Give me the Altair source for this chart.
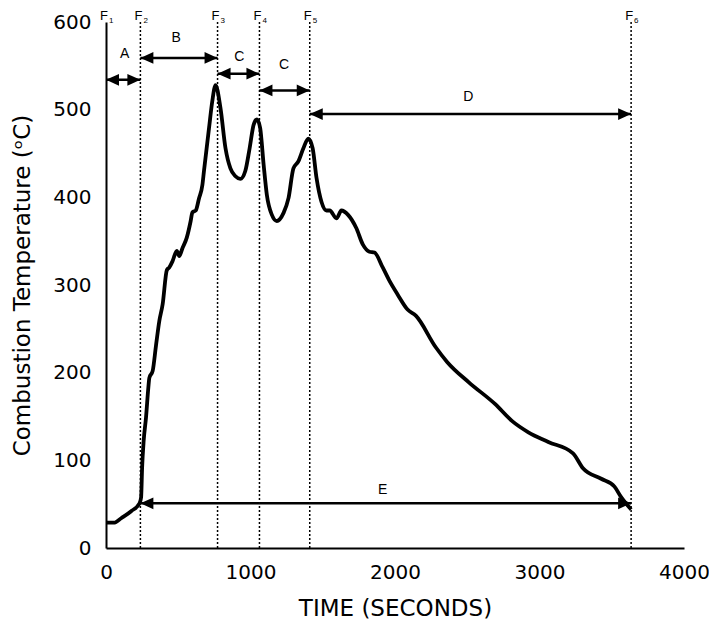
import altair as alt
import pandas as pd

# Curve data (time in seconds, temperature in °C)
time_s = [0, 60, 105, 174, 232, 243, 250, 261, 277, 293, 300, 323, 346, 369, 392, 421, 438,
          460, 490, 507, 529, 559, 586, 598, 621, 644, 667, 678, 713, 735, 758, 792, 827,
          861, 896, 930, 964, 994, 1022, 1045, 1067, 1091, 1113, 1148, 1182, 1228, 1263,
          1297, 1331, 1366, 1400, 1430, 1457, 1491, 1526, 1548, 1595, 1629, 1675, 1732,
          1778, 1823, 1858, 1915, 1961, 2019, 2087, 2144, 2282, 2362, 2511, 2694, 2809,
          2923, 3061, 3232, 3301, 3427, 3519, 3565, 3634]
temp_c = [29, 29, 34, 42, 51, 58, 92, 123, 149, 183, 194, 202, 231, 259, 278, 317, 320,
          327, 339, 333, 342, 354, 373, 383, 385, 399, 414, 430, 479, 509, 528, 502, 456,
          433, 424, 421, 430, 456, 483, 489, 479, 437, 403, 380, 373, 382, 399,
          433, 441, 456, 467, 456, 422, 395, 385, 385, 376, 385, 380, 365,
          346, 338, 337, 320, 305, 289, 272, 265, 229, 212, 189, 164, 145,
          132, 121, 108, 91, 79, 70, 58, 44]

# Phase boundaries F1..F6
f_names = ["1", "2", "3", "4", "5", "6"]
f_times = [0, 238, 772, 1062, 1410, 3634]

# Interval arrows
arrow_labels = ["A", "B", "C", "C", "D", "E"]
arrow_start = [0, 238, 772, 1062, 1410, 238]
arrow_end = [238, 772, 1062, 1410, 3634, 3634]
arrow_level = [534, 559, 541, 522, 495, 51]
label_time = [129, 485, 922, 1232, 2508, 1915]
label_level = [564, 582, 560, 551, 515, 66]

x_ticks = [0, 1000, 2000, 3000, 4000]
y_ticks = [0, 100, 200, 300, 400, 500, 600]

curve = pd.DataFrame({"t": time_s, "T": temp_c})
fdf = pd.DataFrame({"t": f_times, "n": f_names, "F": ["F"] * len(f_names)})
arr = pd.DataFrame({"x1": arrow_start, "x2": arrow_end, "y": arrow_level,
                    "label": arrow_labels, "lx": label_time, "ly": label_level})

xs = alt.Scale(domain=[0, 4000], nice=False)
ys = alt.Scale(domain=[0, 600], nice=False)

xaxis = alt.Axis(values=x_ticks, ticks=False, tickSize=0, grid=False, labelFlush=False,
                 labelPadding=14, titlePadding=15, format="d",
                 domainColor="black", domainWidth=2)
yaxis = alt.Axis(values=y_ticks, ticks=False, tickSize=0, grid=False,
                 labelPadding=15, titlePadding=18, format="d",
                 domainColor="black", domainWidth=2)

base_line = alt.Chart(curve).mark_line(
    color="black", strokeWidth=3.8, strokeJoin="round", interpolate="monotone"
).encode(
    x=alt.X("t:Q", scale=xs, axis=xaxis, title="TIME (SECONDS)"),
    y=alt.Y("T:Q", scale=ys, axis=yaxis, title="Combustion Temperature (ᵒC)"),
)

vlines = alt.Chart(fdf[fdf["n"] != "1"]).mark_rule(
    color="black", strokeWidth=1.5, strokeDash=[2, 2]
).encode(x="t:Q", y=alt.datum(0), y2=alt.datum(600))

f_text = alt.Chart(fdf).mark_text(
    font="Liberation Sans", fontSize=13, align="center", baseline="alphabetic", dx=-2
).encode(x="t:Q", y=alt.value(-2), text="F:N")

f_sub = alt.Chart(fdf).mark_text(
    font="Liberation Sans", fontSize=8, align="left", baseline="alphabetic", dx=3
).encode(x="t:Q", y=alt.value(1), text="n:N")

shafts = alt.Chart(arr).mark_rule(color="black", strokeWidth=2.5).encode(
    x="x1:Q", x2="x2:Q", y="y:Q"
)

right_head = alt.Chart(arr).mark_point(
    shape="M0,0L-2,-0.9L-2,0.9Z", filled=True, size=169, color="black", opacity=1, strokeWidth=0
).encode(x="x2:Q", y="y:Q")

left_head = alt.Chart(arr).mark_point(
    shape="M0,0L2,-0.9L2,0.9Z", filled=True, size=169, color="black", opacity=1, strokeWidth=0
).encode(x="x1:Q", y="y:Q")

arrow_text = alt.Chart(arr).mark_text(
    font="Liberation Sans", fontSize=14, align="center", baseline="middle", color="black"
).encode(x="lx:Q", y="ly:Q", text="label:N")

chart = alt.layer(
    vlines, base_line, shafts, right_head, left_head, arrow_text, f_text, f_sub
).properties(
    width=578, height=526,
    autosize=alt.AutoSizeParams(type="none"),
    padding={"left": 98, "top": 14, "right": 25, "bottom": 72},
).configure_view(stroke=None).configure_axis(
    labelFont="DejaVu Sans", labelFontSize=20, labelColor="black",
    titleFont="DejaVu Sans", titleFontSize=23, titleFontWeight="normal", titleColor="black",
)

chart.save("out.html", embed_options={"renderer": "svg", "actions": False})
